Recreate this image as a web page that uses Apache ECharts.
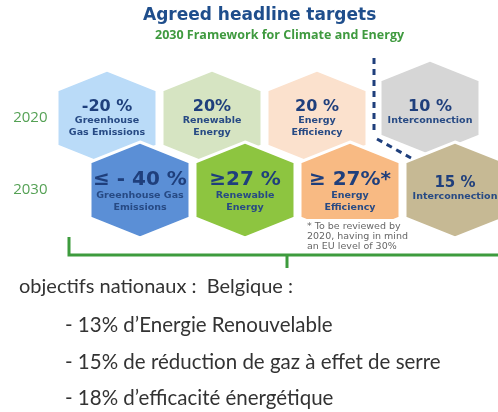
<!DOCTYPE html>
<html>
<head>
<meta charset="utf-8">
<script src="https://cdn.jsdelivr.net/npm/echarts@6/dist/echarts.min.js"></script>
<style>
html,body{margin:0;padding:0;background:#fff;}
#main{width:498px;height:412px;}
</style>
</head>
<body>
<div id="main"></div>
<script>
var years = ['2020', '2030'];
var goals = ['Greenhouse Gas Emissions', 'Renewable Energy', 'Energy Efficiency', 'Interconnection'];
var targets2020 = ['-20 %', '20%', '20 %', '10 %'];
var targets2030 = ['≤ - 40 %', '≥27 %', '≥ 27%*', '15 %'];
var labels2020 = [['Greenhouse', 'Gas Emissions'], ['Renewable', 'Energy'], ['Energy', 'Efficiency'], ['Interconnection']];
var labels2030 = [['Greenhouse Gas', 'Emissions'], ['Renewable', 'Energy'], ['Energy', 'Efficiency'], ['Interconnection']];
var footnote = ['* To be reviewed by', '2020, having in mind', 'an EU level of 30%'];
var belgium = ['13% d\u2019Energie Renouvelable', '15% de réduction de gaz à effet de serre', '18% d\u2019efficacité énergétique'];

// styles / layout
var fills = [['#badbf8', '#d6e4c2', '#fbe1cd', '#d6d6d6'], ['#5b8fd6', '#8dc540', '#f8ba83', '#c6b994']];
var navy = '#1f3f7c';
var green = '#3d9b3d';
var rowShift = [-33, 0];
var bigSize = [[16, 16, 16, 16], [20, 20, 20, 15]];
var colW = 105;

var data = [];
years.forEach(function (y, r) {
    goals.forEach(function (g, i) { data.push([i, r]); });
});

function hexPoints(cx, cy) {
    var w = 50, h = 48, s = 20;
    return [[cx, cy - h], [cx + w, cy - h + s], [cx + w, cy + h - s], [cx, cy + h], [cx - w, cy + h - s], [cx - w, cy - h + s]];
}

var chart = echarts.init(document.getElementById('main'));
chart.setOption({
    animation: false,
    title: [{
        text: 'Agreed headline targets',
        left: 143, top: 7, padding: 0,
        textStyle: {color: '#1f4e8c', fontSize: 17, fontWeight: 'bold', fontFamily: 'DejaVu Sans'}
    }, {
        text: '2030 Framework for Climate and Energy',
        left: 155, top: 29, padding: 0,
        textStyle: {color: '#3f9a3f', fontSize: 12.5, fontWeight: 'bold', fontFamily: 'Open Sans'}
    }],
    grid: {left: 87.5, right: 0, top: 82, height: 144},
    xAxis: {type: 'value', min: -0.5, max: -0.5 + 410.5 / colW, show: false},
    yAxis: {
        type: 'category', data: years, inverse: true,
        axisLine: {show: false}, axisTick: {show: false}, splitLine: {show: false},
        axisLabel: {color: '#55a155', fontSize: 15, fontFamily: 'Open Sans', margin: 40}
    },
    series: [{
        type: 'custom',
        data: data,
        renderItem: function (params, api) {
            var g = api.value(0), r = api.value(1);
            var p = api.coord([g, r]);
            var cx = p[0] + rowShift[r], cy = p[1];
            var hx = cx, hy = cy;
            if (r === 0 && g === 3) { hx += 8; hy -= 10; }
            var lines = r === 0 ? labels2020[g] : labels2030[g];
            var big = r === 0 ? targets2020[g] : targets2030[g];
            var bigDy, lineDy;
            if (r === 0) { bigDy = -11; lineDy = 3; }
            else if (lines.length === 1) { bigDy = -7; lineDy = 7; }
            else { bigDy = -10; lineDy = 6; }
            var children = [{
                type: 'polygon',
                shape: {points: hexPoints(hx, hy)},
                style: {fill: fills[r][g], stroke: '#fff', lineWidth: 3}
            }, {
                type: 'text',
                style: {
                    text: big, x: hx, y: cy + bigDy, align: 'center', verticalAlign: 'middle',
                    fill: navy, font: 'bold ' + bigSize[r][g] + 'px "DejaVu Sans"'
                }
            }];
            lines.forEach(function (t, k) {
                children.push({
                    type: 'text',
                    style: {
                        text: t, x: hx, y: cy + lineDy + k * 12, align: 'center', verticalAlign: 'middle',
                        fill: '#274a84', font: 'bold 9.5px "DejaVu Sans"'
                    }
                });
            });
            return {type: 'group', children: children};
        }
    }],
    graphic: [
        {type: 'polyline', z: 100, shape: {points: [[374, 58], [374, 135]]}, style: {stroke: navy, lineWidth: 3, lineDash: [6, 5]}},
        {type: 'polyline', z: 100, shape: {points: [[377, 139], [411, 158]]}, style: {stroke: navy, lineWidth: 3, lineDash: [6, 5]}},
        {type: 'rect', z: 100, shape: {x: 300, y: 219, width: 100, height: 33}, style: {fill: '#fff'}},
        {type: 'polyline', z: 100, shape: {points: [[69, 237], [69, 255], [498, 255]]}, style: {stroke: green, lineWidth: 3, fill: null}},
        {type: 'polyline', z: 100, shape: {points: [[287, 255], [287, 268]]}, style: {stroke: green, lineWidth: 3}},
        {type: 'text', z: 101, left: 307, top: 222, style: {text: footnote.join('\n'), fill: '#666', font: '9.5px "DejaVu Sans"', lineHeight: 10}},
        {type: 'text', z: 100, left: 19, top: 277, style: {text: 'objectifs nationaux :  Belgique :', fill: '#333', font: '20px Lato'}},
        {type: 'text', z: 100, left: 65, top: 315, style: {text: '- ' + belgium[0], fill: '#333', font: '20.5px Lato'}},
        {type: 'text', z: 100, left: 65, top: 352, style: {text: '- ' + belgium[1], fill: '#333', font: '20.5px Lato'}},
        {type: 'text', z: 100, left: 65, top: 388, style: {text: '- ' + belgium[2], fill: '#333', font: '20.5px Lato'}}
    ]
});
</script>
</body>
</html>
